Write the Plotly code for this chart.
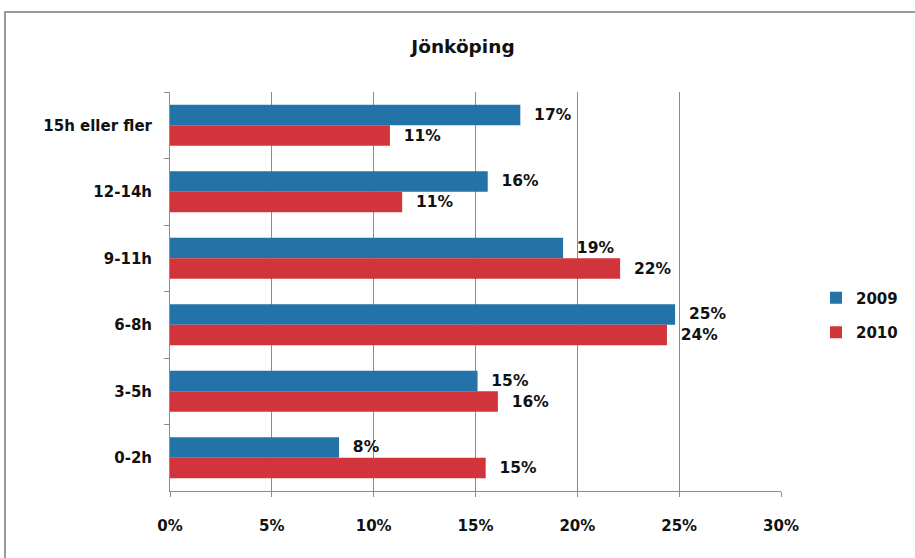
import plotly.graph_objects as go

categories = ["15h eller fler", "12-14h", "9-11h", "6-8h", "3-5h", "0-2h"]
values_2009 = [17.2, 15.6, 19.3, 24.8, 15.1, 8.3]
values_2010 = [10.8, 11.4, 22.1, 24.4, 16.1, 15.5]
labels_2009 = ["17%", "16%", "19%", "25%", "15%", "8%"]
labels_2010 = ["11%", "11%", "22%", "24%", "16%", "15%"]
x_ticks = [0, 5, 10, 15, 20, 25, 30]
x_tick_labels = ["0%", "5%", "10%", "15%", "20%", "25%", "30%"]

FONT = "DejaVu Sans, Arial, sans-serif"
TXT = "#111111"
BLUE = "#2372a8"
RED = "#d1343a"
GRID = "#8c8c8c"


def bold(size):
    return dict(family=FONT, size=size, color=TXT, weight="bold")


fig = go.Figure()
fig.add_trace(go.Bar(
    y=categories, x=values_2009, orientation="h", name="2009", legendgroup="a",
    marker=dict(color=BLUE, line=dict(width=0)),
    text=labels_2009, texttemplate="\u00a0\u00a0%{text}", textposition="outside",
    cliponaxis=False, textfont=bold(15.5),
))
fig.add_trace(go.Bar(
    y=categories, x=values_2010, orientation="h", name="2010", legendgroup="b",
    marker=dict(color=RED, line=dict(width=0)),
    text=labels_2010, texttemplate="\u00a0\u00a0%{text}", textposition="outside",
    cliponaxis=False, textfont=bold(15.5),
))

L, R, T, B = 170, 134, 92, 67
W, H = 915, 558
pw = W - L - R
ph = H - T - B


def px_x(p):
    return (p - L) / pw


def px_y(p):
    return (H - B - p) / ph


fig.update_layout(
    width=W, height=H,
    margin=dict(l=L, r=R, t=T, b=B, autoexpand=False),
    paper_bgcolor="white", plot_bgcolor="white",
    barmode="group", bargap=0.38, bargroupgap=0,
    title=dict(text="Jönköping", x=0.506, xanchor="center", y=1 - 47 / H, yanchor="middle",
               font=bold(18.5)),
    font=bold(15),
    showlegend=True,
    legend=dict(x=px_x(816), xanchor="left", y=px_y(315), yanchor="middle",
                font=bold(15), traceorder="grouped", tracegroupgap=12,
                bgcolor="rgba(0,0,0,0)"),
    xaxis=dict(range=[0, 30], tickvals=x_ticks, ticktext=x_tick_labels,
               showgrid=True, gridcolor=GRID, gridwidth=1,
               showline=True, linecolor=GRID, linewidth=1,
               ticks="outside", ticklen=5, tickcolor=GRID, ticklabelstandoff=16,
               zeroline=False, automargin=False, tickfont=bold(15)),
    yaxis=dict(autorange="reversed", showline=True, linecolor=GRID, linewidth=1,
               ticks="outside", ticklen=5, tickcolor=GRID, tickson="boundaries",
               showgrid=False, ticklabelstandoff=14, automargin=False,
               tickfont=bold(15)),
    shapes=[dict(type="rect", xref="paper", yref="paper",
                 x0=px_x(5), x1=px_x(925), y0=px_y(570), y1=px_y(12),
                 line=dict(color="#9a9a9a", width=2), fillcolor="rgba(0,0,0,0)", layer="below")],
)

fig.write_html("out.html", config={"displayModeBar": False},
               post_script="document.body.style.margin='0';")
